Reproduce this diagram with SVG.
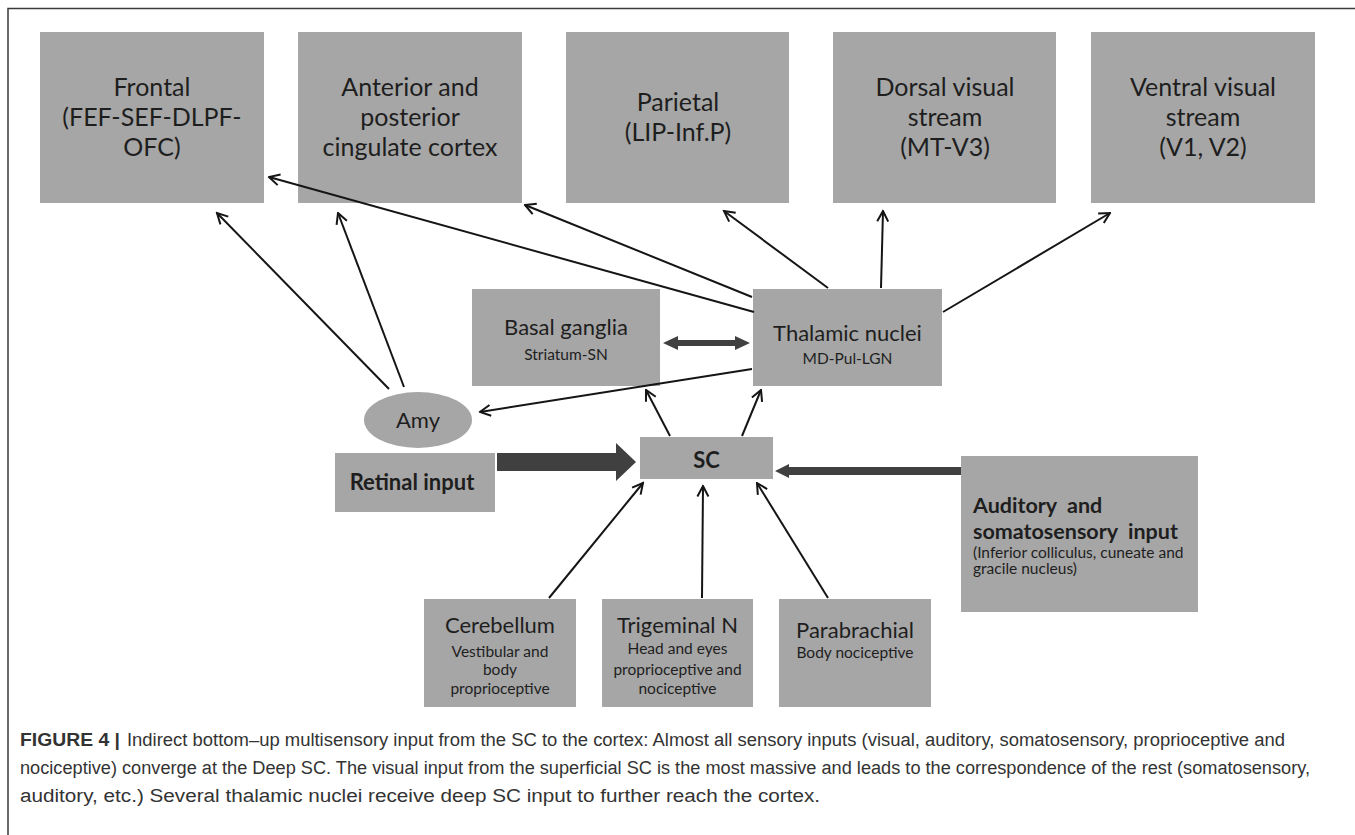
<svg xmlns="http://www.w3.org/2000/svg" width="1355" height="835" viewBox="0 0 1355 835">
  <style>
    .box { fill: #a6a6a6; }
    .frame { stroke: #3a3a3a; stroke-width: 1.5; fill: none; }
    .lbl { font-family: Lato, "Liberation Sans", sans-serif; fill: #1e1e1e; text-anchor: middle; }
    .big { font-size: 25px; }
    .mid { font-size: 22px; }
    .sub { font-size: 15.5px; }
    .bold { font-weight: bold; }
    .left { text-anchor: start; }
    .thin { stroke: #151515; stroke-width: 2; fill: none; marker-end: url(#open); }
    .thick { fill: #404040; }
    .cap { font-family: "Liberation Sans", Arial, sans-serif; font-size: 18px; fill: #333; }
  </style>
  <defs>
    <marker id="open" viewBox="0 0 14 14" refX="12.5" refY="7" markerWidth="14" markerHeight="14" markerUnits="userSpaceOnUse" orient="auto">
      <path d="M2,1.5 L12.5,7 L2,12.5" fill="none" stroke="#151515" stroke-width="2"/>
    </marker>
  </defs>

  <!-- figure frame -->
  <path class="frame" d="M8,835 V8.5 H1355"/>

  <!-- cortical targets -->
  <g id="frontal">
    <rect class="box" x="40" y="32" width="224" height="171"/>
    <text class="lbl big" x="152" y="96">Frontal</text>
    <text class="lbl big" x="152" y="126">(FEF-SEF-DLPF-</text>
    <text class="lbl big" x="152" y="156">OFC)</text>
  </g>
  <g id="cingulate">
    <rect class="box" x="298" y="32" width="224" height="171"/>
    <text class="lbl big" x="410" y="96">Anterior and</text>
    <text class="lbl big" x="410" y="126">posterior</text>
    <text class="lbl big" x="410" y="156">cingulate cortex</text>
  </g>
  <g id="parietal">
    <rect class="box" x="566" y="32" width="223" height="171"/>
    <text class="lbl big" x="678" y="111">Parietal</text>
    <text class="lbl big" x="678" y="141">(LIP-Inf.P)</text>
  </g>
  <g id="dorsal">
    <rect class="box" x="833" y="32" width="223" height="171"/>
    <text class="lbl big" x="945" y="96">Dorsal visual</text>
    <text class="lbl big" x="945" y="126">stream</text>
    <text class="lbl big" x="945" y="156">(MT-V3)</text>
  </g>
  <g id="ventral">
    <rect class="box" x="1091" y="32" width="224" height="171"/>
    <text class="lbl big" x="1203" y="96">Ventral visual</text>
    <text class="lbl big" x="1203" y="126">stream</text>
    <text class="lbl big" x="1203" y="156">(V1, V2)</text>
  </g>

  <!-- subcortical relays -->
  <g id="basal-ganglia">
    <rect class="box" x="472" y="289" width="188" height="97"/>
    <text class="lbl mid" x="566" y="335">Basal ganglia</text>
    <text class="lbl sub" x="566" y="359.5">Striatum-SN</text>
  </g>
  <g id="thalamic-nuclei">
    <rect class="box" x="753" y="289" width="189" height="97"/>
    <text class="lbl mid" x="847.5" y="341">Thalamic nuclei</text>
    <text class="lbl sub" x="847.5" y="363.5">MD-Pul-LGN</text>
  </g>
  <g id="amy">
    <ellipse class="box" cx="418" cy="420" rx="54" ry="28"/>
    <text class="lbl mid" x="418" y="428">Amy</text>
  </g>
  <g id="sc">
    <rect class="box" x="640" y="437" width="133" height="42"/>
    <text class="lbl mid bold" x="706.5" y="468">SC</text>
  </g>

  <!-- sensory sources -->
  <g id="retinal-input">
    <rect class="box" x="335" y="453" width="160" height="59"/>
    <text class="lbl mid bold" x="412" y="490">Retinal input</text>
  </g>
  <g id="auditory-somatosensory">
    <rect class="box" x="961" y="456" width="237" height="156"/>
    <text class="lbl bold left" font-size="21.5" x="973" y="512.5" xml:space="preserve">Auditory  and</text>
    <text class="lbl bold left" font-size="21.5" x="973" y="538.5" xml:space="preserve">somatosensory  input</text>
    <text class="lbl sub left" x="973" y="557.5">(Inferior colliculus, cuneate and</text>
    <text class="lbl sub left" x="973" y="573.5">gracile nucleus)</text>
  </g>
  <g id="cerebellum">
    <rect class="box" x="424" y="599" width="152" height="108"/>
    <text class="lbl mid" x="500" y="632.5">Cerebellum</text>
    <text class="lbl sub" x="500" y="656.5">Vestibular and</text>
    <text class="lbl sub" x="500" y="674.5">body</text>
    <text class="lbl sub" x="500" y="693.5">proprioceptive</text>
  </g>
  <g id="trigeminal">
    <rect class="box" x="602" y="599" width="151" height="108"/>
    <text class="lbl mid" x="677.5" y="632.5">Trigeminal N</text>
    <text class="lbl sub" x="677.5" y="653.5">Head and eyes</text>
    <text class="lbl sub" x="677.5" y="674.5">proprioceptive and</text>
    <text class="lbl sub" x="677.5" y="693.5">nociceptive</text>
  </g>
  <g id="parabrachial">
    <rect class="box" x="779" y="599" width="152" height="108"/>
    <text class="lbl mid" x="855" y="637.5">Parabrachial</text>
    <text class="lbl sub" x="855" y="657.5">Body nociceptive</text>
  </g>

  <!-- connectors -->
  <g id="connectors">
    <line class="thin" x1="389" y1="389" x2="217" y2="213"/>
    <line class="thin" x1="404" y1="387" x2="338" y2="213"/>
    <line class="thin" x1="754" y1="312" x2="269" y2="177"/>
    <line class="thin" x1="752" y1="297" x2="525" y2="205"/>
    <line class="thin" x1="828" y1="288" x2="724" y2="211"/>
    <line class="thin" x1="881" y1="288" x2="883" y2="211"/>
    <line class="thin" x1="943" y1="312" x2="1110" y2="213"/>
    <line class="thin" x1="752" y1="369" x2="480" y2="412"/>
    <line class="thin" x1="670" y1="436" x2="646" y2="390"/>
    <line class="thin" x1="742" y1="436" x2="761" y2="390"/>
    <line class="thin" x1="549" y1="598" x2="643" y2="483"/>
    <line class="thin" x1="702" y1="598" x2="703" y2="486"/>
    <line class="thin" x1="828" y1="598" x2="757" y2="483"/>
    <!-- basal ganglia <-> thalamus -->
    <path class="thick" d="M663,343 L678,336 L678,340 L735,340 L735,336 L750,343 L735,350 L735,346 L678,346 L678,350 Z"/>
    <!-- retinal input to SC -->
    <path class="thick" d="M497,453 L616,453 L616,443 L636,462 L616,481 L616,471 L497,471 Z"/>
    <!-- auditory / somatosensory input to SC -->
    <path class="thick" d="M775,471 L789,464 L789,467 L961,467 L961,475 L789,475 L789,478 Z"/>
  </g>

  <!-- caption -->
  <g id="caption">
    <text class="cap" x="20" y="746" font-weight="bold" fill="#222" textLength="100" lengthAdjust="spacingAndGlyphs">FIGURE 4 |</text>
    <text class="cap" x="127" y="746" textLength="1158" lengthAdjust="spacingAndGlyphs">Indirect bottom–up multisensory input from the SC to the cortex: Almost all sensory inputs (visual, auditory, somatosensory, proprioceptive and</text>
    <text class="cap" x="20" y="774" textLength="1290" lengthAdjust="spacingAndGlyphs">nociceptive) converge at the Deep SC. The visual input from the superficial SC is the most massive and leads to the correspondence of the rest (somatosensory,</text>
    <text class="cap" x="20" y="802" textLength="800" lengthAdjust="spacingAndGlyphs">auditory, etc.) Several thalamic nuclei receive deep SC input to further reach the cortex.</text>
  </g>
</svg>
